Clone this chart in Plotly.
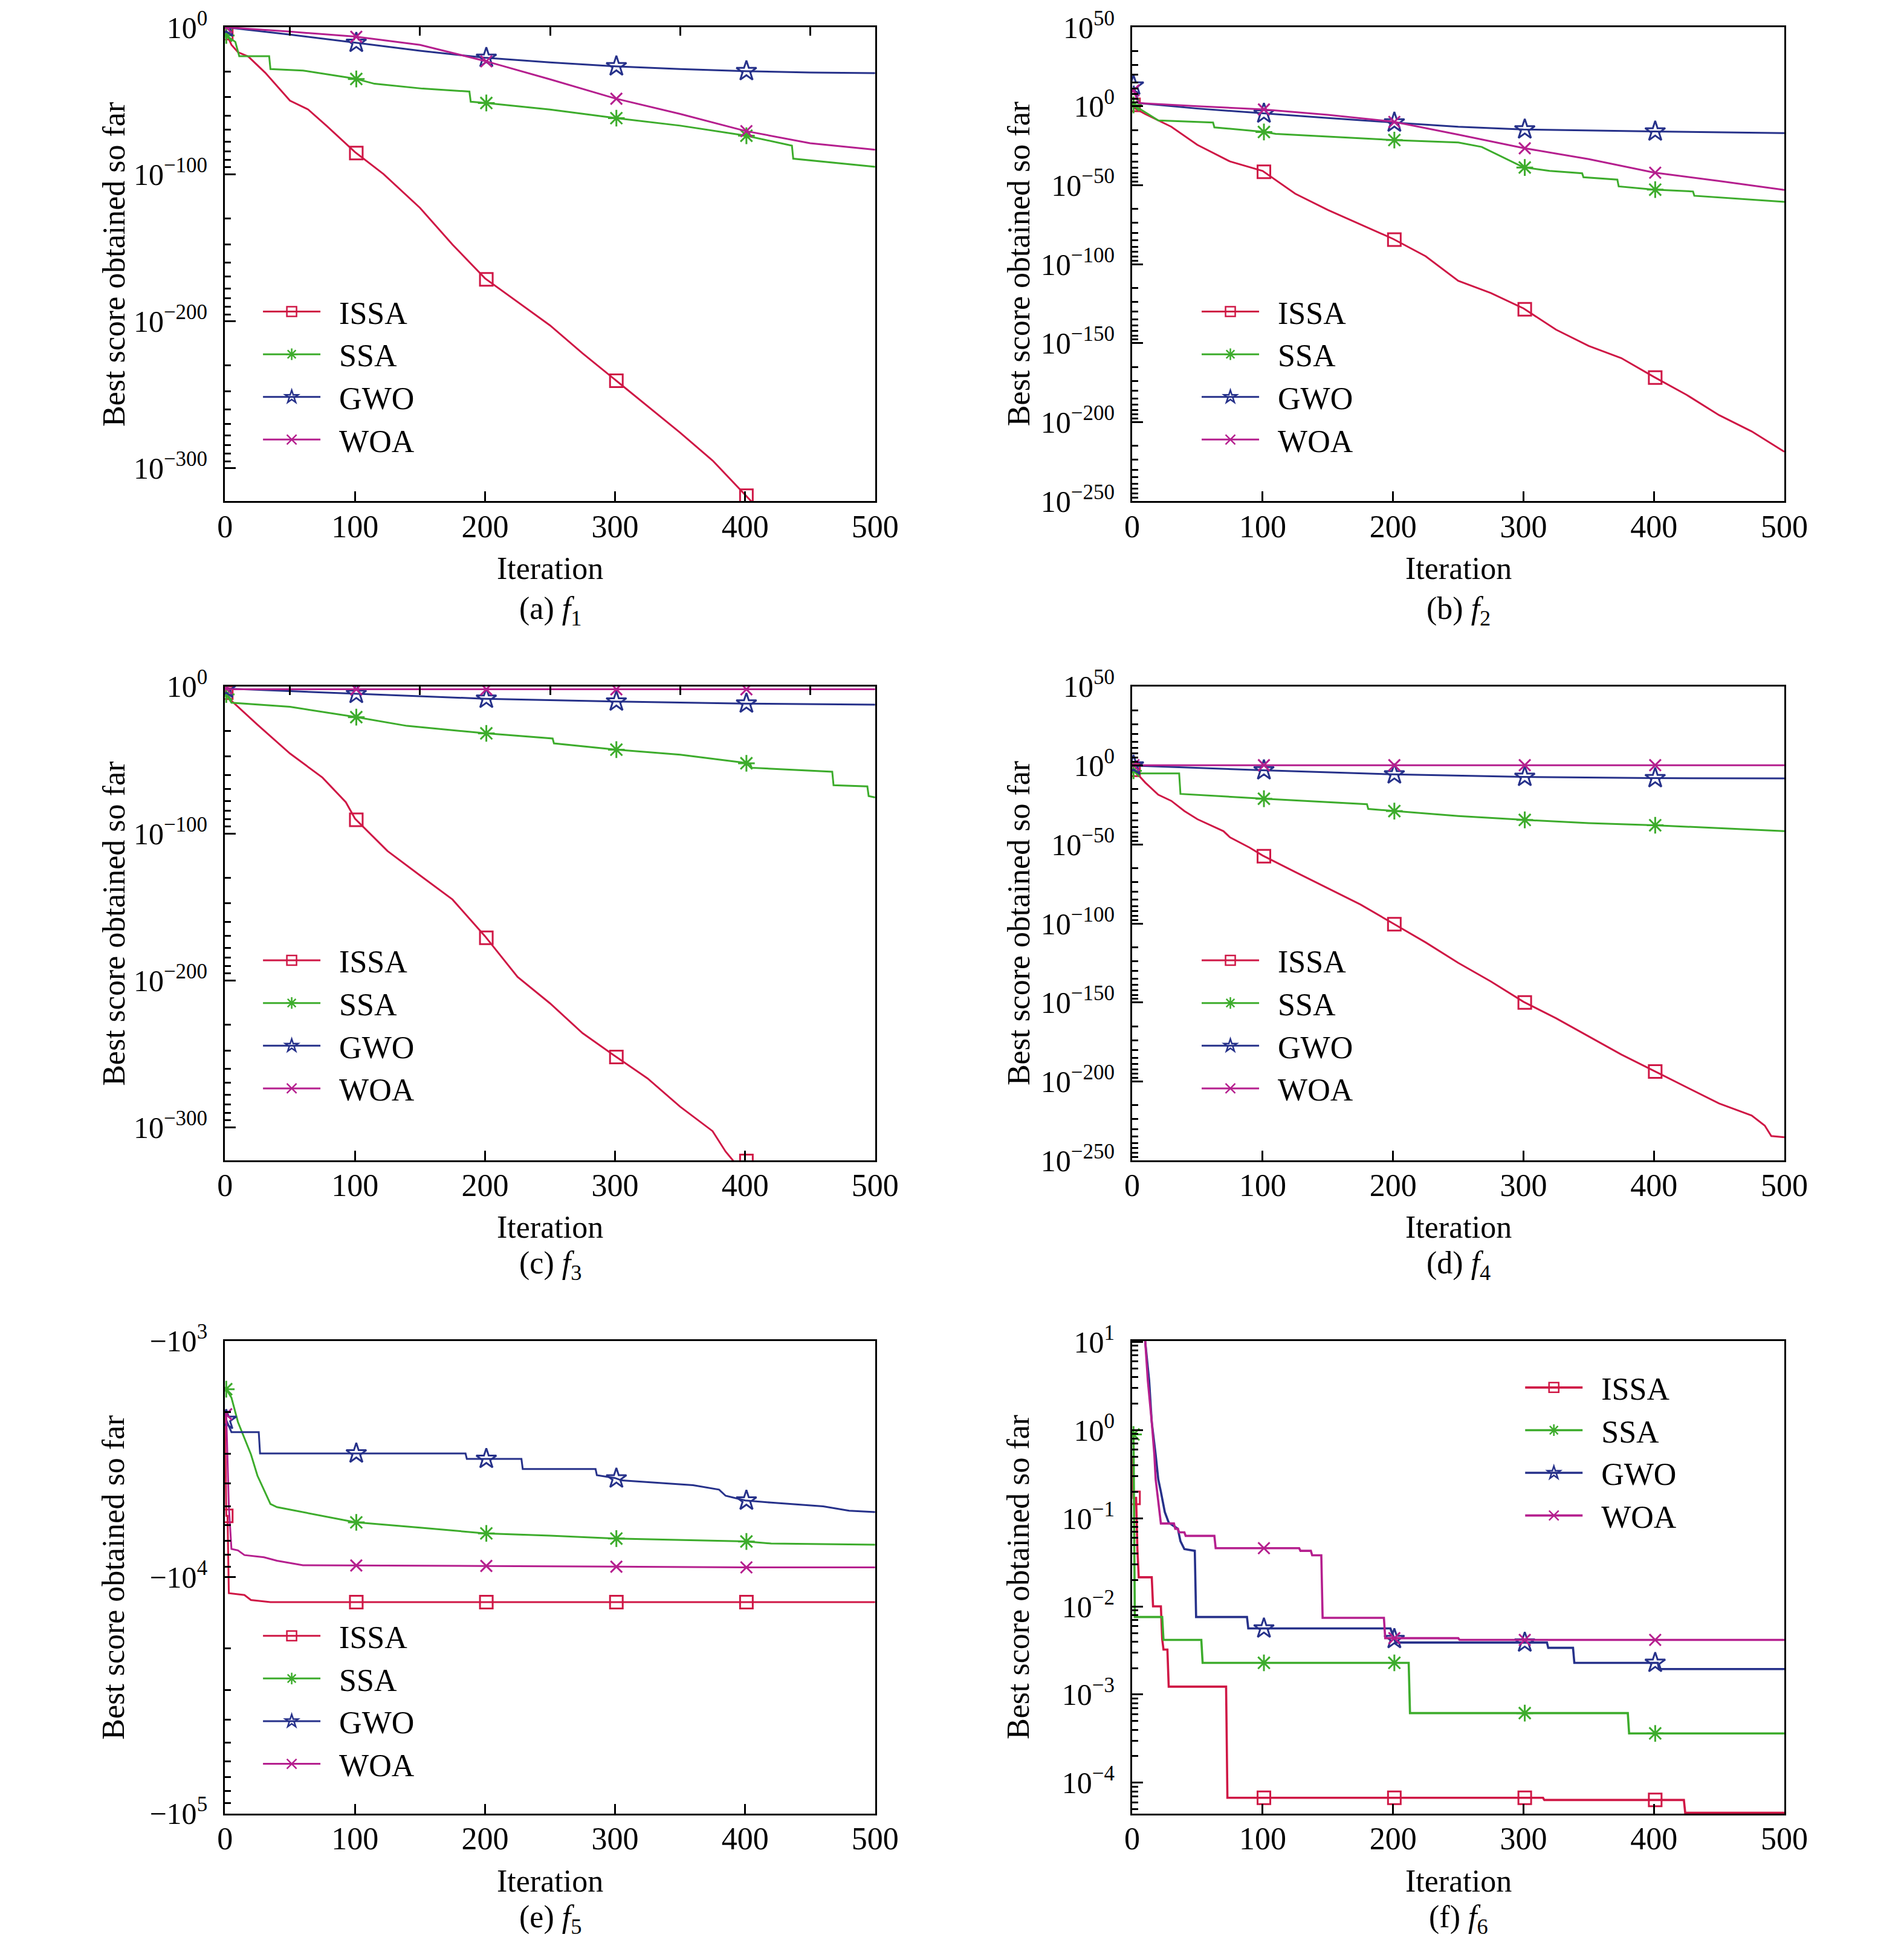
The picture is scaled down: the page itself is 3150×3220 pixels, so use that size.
import numpy as np
import plotly.graph_objects as go

# All curve values are log10(best score).
# Panel (e) holds log10(-best score), the scores being negative.

# ---- (a) f1 ----
f1_issa_x = [0, 5, 10, 18, 31, 50, 64, 78, 100, 122, 150, 175, 200, 225, 250, 275, 300, 325, 350, 375, 400, 405]
f1_issa_y = [-2, -12, -17, -20, -31, -50, -56, -67, -85, -100, -123, -148, -171, -187, -203, -222, -240, -258, -276, -295, -318, -323]
f1_ssa_x = [0, 3, 8, 11, 34, 35, 60, 93, 100, 115, 152, 188, 189, 200, 250, 300, 350, 400, 436, 437, 500]
f1_ssa_y = [-5, -7, -10, -19.7, -19.7, -28.5, -29.5, -34, -35, -38.5, -41.8, -43.8, -50.7, -51.5, -56, -61.8, -67, -73.7, -80.6, -89.5, -95]
f1_gwo_x = [0, 50, 100, 150, 200, 250, 300, 350, 400, 450, 500]
f1_gwo_y = [0, -5, -10.5, -16, -20.8, -24, -26.6, -28.5, -29.9, -30.8, -31.3]
f1_woa_x = [0, 50, 100, 150, 200, 250, 300, 350, 400, 450, 500]
f1_woa_y = [0, -3, -6.4, -12, -23, -35.5, -48.5, -59, -70.6, -79, -83.4]

# ---- (b) f2 ----
f2_issa_x = [0, 2, 10, 30, 50, 75, 100, 125, 150, 175, 200, 225, 250, 275, 300, 325, 350, 375, 400, 425, 450, 475, 500]
f2_issa_y = [3, -1.3, -5, -13, -24.5, -35, -41, -55.4, -65.7, -74.7, -84, -95, -110.6, -118.3, -128, -141.5, -151.8, -159.5, -171.4, -182.7, -195.6, -205.9, -218.8]
f2_ssa_x = [0, 10, 20, 62, 63, 100, 110, 200, 250, 268, 300, 320, 345, 346, 372, 373, 400, 430, 431, 500]
f2_ssa_y = [1.3, -3.9, -9, -10.3, -13.4, -16.2, -17.5, -21.4, -23, -25.8, -38.7, -41, -42.5, -45, -46.5, -50.8, -52.8, -54, -56.7, -60.6]
f2_gwo_x = [1, 5, 50, 100, 150, 200, 250, 300, 400, 500]
f2_gwo_y = [13, 2, -1.5, -4.6, -7.5, -10.3, -13, -14.7, -16, -17]
f2_woa_x = [1, 5, 50, 100, 150, 200, 250, 300, 350, 400, 450, 500]
f2_woa_y = [10, 2, 0, -2, -5.5, -9.8, -18, -26.5, -33.5, -42, -47.4, -53]

# ---- (c) f3 ----
f3_issa_x = [0, 5, 25, 50, 75, 93, 100, 125, 150, 175, 200, 225, 250, 275, 300, 325, 350, 375, 385, 391]
f3_issa_y = [-2.8, -9.7, -26, -45.6, -62, -78.8, -89.9, -112, -128.6, -145, -170, -197.7, -215.7, -236, -251.6, -266.8, -286, -302.7, -316.6, -323]
f3_ssa_x = [0, 5, 50, 100, 140, 200, 252, 253, 300, 350, 400, 404, 405, 467, 468, 494, 495, 500]
f3_ssa_y = [-4, -11, -13.8, -20.7, -26.8, -31.8, -35.4, -38.7, -42.9, -46.4, -52, -53, -55.3, -58, -67.2, -68, -74.6, -75.5]
f3_gwo_x = [0, 50, 100, 150, 200, 300, 400, 500]
f3_gwo_y = [-1.4, -3.2, -5, -6.8, -8.3, -10.2, -11.6, -12.4]
f3_woa_x = [0, 5, 500]
f3_woa_y = [-1.2, -1.9, -1.9]

# ---- (d) f4 ----
f4_issa_x = [0, 10, 20, 30, 40, 50, 70, 75, 90, 100, 125, 150, 175, 200, 225, 250, 275, 300, 325, 350, 375, 400, 425, 450, 475, 485, 490, 500]
f4_issa_y = [-1.8, -10.8, -18.5, -22.4, -28.8, -34, -41.6, -45.5, -52, -57, -67.4, -77.7, -88, -100, -112, -125, -136.7, -149.6, -160, -171.5, -183, -193.3, -203.6, -214, -221.6, -228, -234.6, -235.4]
f4_ssa_x = [0, 5, 36, 37, 100, 180, 181, 200, 250, 300, 350, 400, 500]
f4_ssa_y = [-3, -5, -5, -18, -21, -24.5, -27.5, -28.8, -32, -34.4, -36.5, -37.8, -41.6]
f4_gwo_x = [0, 100, 200, 300, 400, 500]
f4_gwo_y = [0, -3, -5.6, -7.2, -8, -8.2]
f4_woa_x = [0, 500]
f4_woa_y = [0.2, 0.2]

# ---- (e) f5 : log10(-score) ----
f5_issa_x = [0, 1, 2, 3, 15, 20, 35, 500]
f5_issa_y = [3.29, 3.74, 3.74, 4.067, 4.075, 4.096, 4.105, 4.105]
f5_ssa_x = [1, 5, 10, 20, 25, 35, 40, 60, 100, 150, 200, 250, 300, 400, 420, 500]
f5_ssa_y = [3.204, 3.24, 3.343, 3.48, 3.57, 3.69, 3.703, 3.724, 3.767, 3.79, 3.814, 3.824, 3.836, 3.848, 3.857, 3.862]
f5_gwo_x = [1, 5, 26, 27, 185, 186, 228, 229, 285, 286, 300, 305, 360, 380, 385, 400, 420, 460, 480, 500]
f5_gwo_y = [3.334, 3.386, 3.386, 3.476, 3.476, 3.499, 3.499, 3.542, 3.542, 3.568, 3.58, 3.59, 3.61, 3.629, 3.655, 3.675, 3.684, 3.70, 3.718, 3.724]
f5_woa_x = [1, 3, 5, 10, 15, 30, 40, 60, 200, 400, 500]
f5_woa_y = [3.31, 3.7, 3.88, 3.886, 3.906, 3.915, 3.93, 3.949, 3.952, 3.958, 3.958]

# ---- (f) f6 ----
f6_issa_x = [0, 1, 3, 4, 5, 15, 16, 22, 23, 24, 27, 28, 72, 73, 315, 316, 423, 424, 500]
f6_issa_y = [-0.3, -0.77, -0.77, -1.35, -1.67, -1.67, -2.0, -2.0, -2.37, -2.49, -2.49, -2.91, -2.91, -4.17, -4.17, -4.195, -4.195, -4.34, -4.34]
f6_ssa_x = [0, 1, 2, 23, 24, 53, 54, 212, 213, 380, 381, 500]
f6_ssa_y = [0.0, -0.05, -2.12, -2.12, -2.38, -2.38, -2.64, -2.64, -3.21, -3.21, -3.44, -3.44]
f6_gwo_x = [1, 10, 13, 15, 18, 20, 22, 25, 28, 35, 37, 40, 48, 49, 88, 89, 198, 202, 318, 319, 338, 339, 403, 404, 500]
f6_gwo_y = [3, 1.0, 0.56, 0.09, -0.28, -0.56, -0.7, -0.93, -1.05, -1.12, -1.26, -1.35, -1.37, -2.12, -2.12, -2.25, -2.25, -2.41, -2.41, -2.47, -2.47, -2.64, -2.64, -2.71, -2.71]
f6_woa_x = [1, 10, 12, 15, 17, 18, 20, 22, 32, 33, 35, 36, 40, 41, 63, 64, 128, 129, 137, 138, 145, 146, 193, 194, 250, 251, 500]
f6_woa_y = [3, 1.0, 0.56, 0.09, -0.28, -0.56, -0.79, -1.06, -1.06, -1.12, -1.12, -1.16, -1.16, -1.2, -1.2, -1.34, -1.34, -1.37, -1.37, -1.42, -1.42, -2.13, -2.13, -2.36, -2.36, -2.38, -2.38]

algos = ["ISSA", "SSA", "GWO", "WOA"]
mark_iters = [1, 101, 201, 301, 401]
x_ticks = [0, 100, 200, 300, 400, 500]
subtitles = ["(a) <i>f</i><sub>1</sub>", "(b) <i>f</i><sub>2</sub>", "(c) <i>f</i><sub>3</sub>",
             "(d) <i>f</i><sub>4</sub>", "(e) <i>f</i><sub>5</sub>", "(f) <i>f</i><sub>6</sub>"]

series = [
    [(f1_issa_x, f1_issa_y), (f1_ssa_x, f1_ssa_y), (f1_gwo_x, f1_gwo_y), (f1_woa_x, f1_woa_y)],
    [(f2_issa_x, f2_issa_y), (f2_ssa_x, f2_ssa_y), (f2_gwo_x, f2_gwo_y), (f2_woa_x, f2_woa_y)],
    [(f3_issa_x, f3_issa_y), (f3_ssa_x, f3_ssa_y), (f3_gwo_x, f3_gwo_y), (f3_woa_x, f3_woa_y)],
    [(f4_issa_x, f4_issa_y), (f4_ssa_x, f4_ssa_y), (f4_gwo_x, f4_gwo_y), (f4_woa_x, f4_woa_y)],
    [(f5_issa_x, f5_issa_y), (f5_ssa_x, f5_ssa_y), (f5_gwo_x, f5_gwo_y), (f5_woa_x, f5_woa_y)],
    [(f6_issa_x, f6_issa_y), (f6_ssa_x, f6_ssa_y), (f6_gwo_x, f6_gwo_y), (f6_woa_x, f6_woa_y)],
]

styles = {
    "ISSA": dict(color="#CF1745", symbol="square-open", size=21),
    "SSA": dict(color="#3DAC2C", symbol="asterisk-open", size=23),
    "GWO": dict(color="#26318A", symbol="star-open", size=25),
    "WOA": dict(color="#B51F8E", symbol="x-thin-open", size=19),
}

FONT = "Liberation Serif"
FS = 52
W, H = 3150, 3220

col_dom = [[0.1156, 0.4571], [0.5921, 0.9346]]
row_dom = [[0.7450, 0.9885], [0.4062, 0.6497], [0.0705, 0.3134]]
ytitle_x = [0.0571, 0.5324]
iter_y = [0.7104, 0.3719, 0.0359]
sub_y = [0.6888, 0.3522, 0.0162]
# legend centre points
legend_pos = [(0.1340, 0.8094), (0.6270, 0.8094), (0.1340, 0.4760),
              (0.6270, 0.4760), (0.1340, 0.1289), (0.7969, 0.2565)]


def sup(v):
    return str(v).replace("-", "\u2212")


def y_axis_ticks(panel):
    # major tick values, labels, minor tick values (matlab style)
    if panel in (0, 2):
        majors = [0, -100, -200, -300]
        minors = [m - 100 * np.log10(k) for m in majors for k in range(2, 10)]
        labels = ["10<sup>%s</sup>" % sup(m) for m in majors]
        rng = [-322.6, 0]
    elif panel in (1, 3):
        majors = [50, 0, -50, -100, -150, -200, -250]
        minors = [m - 50 * np.log10(k) for m in majors[:-1] for k in range(2, 10)]
        labels = ["10<sup>%s</sup>" % sup(m) for m in majors]
        rng = [-250, 50]
    elif panel == 4:
        majors = [3, 4, 5]
        minors = [m + np.log10(k) for m in majors[:-1] for k in range(2, 10)]
        labels = ["\u221210<sup>%d</sup>" % m for m in majors]
        rng = [5, 3]
    else:
        majors = [1, 0, -1, -2, -3, -4]
        minors = [m + np.log10(k) for m in range(-5, 1) for k in range(2, 10)]
        minors = [v for v in minors if v > -4.35]
        labels = ["10<sup>%s</sup>" % sup(m) for m in majors]
        rng = [-4.35, 1.01]
    return majors, labels, minors, rng


def note(x, y, text, angle=0):
    fig.add_annotation(x=x, y=y, xref="paper", yref="paper", text=text,
                       xanchor="center", yanchor="middle", textangle=angle,
                       showarrow=False, font=dict(family=FONT, size=FS, color="black"))


fig = go.Figure()

for p in range(6):
    r, c = p // 2, p % 2
    ax = "" if p == 0 else str(p + 1)
    leg = "legend" if p == 0 else "legend%d" % (p + 1)
    lw = 3.6 if p == 5 else 3.0
    for name, (xs, ys) in zip(algos, series[p]):
        st = styles[name]
        fig.add_trace(go.Scatter(
            x=xs, y=ys, mode="lines", line=dict(color=st["color"], width=lw),
            xaxis="x" + ax, yaxis="y" + ax, showlegend=False, hoverinfo="skip"))
        my = np.interp(mark_iters, xs, ys)
        fig.add_trace(go.Scatter(
            x=mark_iters, y=my, mode="markers",
            marker=dict(symbol=st["symbol"], size=st["size"], color=st["color"],
                        line=dict(color=st["color"], width=3)),
            xaxis="x" + ax, yaxis="y" + ax, showlegend=False, hoverinfo="skip"))
        fig.add_trace(go.Scatter(
            x=[None], y=[None], mode="lines+markers", name="\u2002" + name,
            line=dict(color=st["color"], width=lw),
            marker=dict(symbol=st["symbol"], size=st["size"] - 2, color=st["color"],
                        line=dict(color=st["color"], width=2.5)),
            xaxis="x" + ax, yaxis="y" + ax, legend=leg))

    majors, labels, minors, rng = y_axis_ticks(p)
    fig.update_layout(**{
        "xaxis" + ax: dict(
            domain=col_dom[c], anchor="y" + ax, range=[0, 500], automargin=False,
            tickmode="array", tickvals=x_ticks, ticks="inside", ticklen=16, tickwidth=3,
            tickcolor="black", showline=True, linewidth=3, linecolor="black", mirror=True,
            showgrid=False, zeroline=False, ticklabelstandoff=-6,
            tickfont=dict(family=FONT, size=FS, color="black")),
        "yaxis" + ax: dict(
            domain=row_dom[r], anchor="x" + ax, range=rng, automargin=False,
            tickmode="array", tickvals=majors, ticktext=labels, ticks="inside",
            ticklen=18, tickwidth=3, tickcolor="black",
            minor=dict(tickmode="array", tickvals=minors, ticks="inside", ticklen=10,
                       tickwidth=2.5, tickcolor="black", showgrid=False),
            showline=True, linewidth=3, linecolor="black", mirror=True,
            showgrid=False, zeroline=False, ticklabelstandoff=16,
            tickfont=dict(family=FONT, size=FS - 2, color="black")),
        leg: dict(
            x=legend_pos[p][0], y=legend_pos[p][1], xanchor="left", yanchor="middle",
            bgcolor="rgba(0,0,0,0)", borderwidth=0, itemwidth=95,
            font=dict(family=FONT, size=FS, color="black"), tracegroupgap=0),
    })

    xc = (col_dom[c][0] + col_dom[c][1]) / 2
    note(ytitle_x[c], (row_dom[r][0] + row_dom[r][1]) / 2, "Best score obtained so far", -90)
    note(xc, iter_y[r], "Iteration")
    note(xc, sub_y[r], subtitles[p])

# short ticks on the top frame of (a) and (c)
for base, extra in (("", 7), ("3", 8)):
    fig.add_trace(go.Scatter(x=[None], y=[None], xaxis="x%d" % extra,
                             yaxis="y" + base, showlegend=False, hoverinfo="skip"))
    fig.update_layout(**{"xaxis%d" % extra: dict(
        overlaying="x" + base, anchor="y" + base, side="top", range=[0, 500],
        automargin=False, tickmode="array", tickvals=[50, 150, 250, 350, 450],
        ticks="inside", ticklen=14, tickwidth=3, tickcolor="black",
        showticklabels=False, showline=False, showgrid=False, zeroline=False)})

fig.update_layout(width=W, height=H, margin=dict(l=0, r=0, t=0, b=0),
                  paper_bgcolor="white", plot_bgcolor="white")

fig.write_html("out.html")
